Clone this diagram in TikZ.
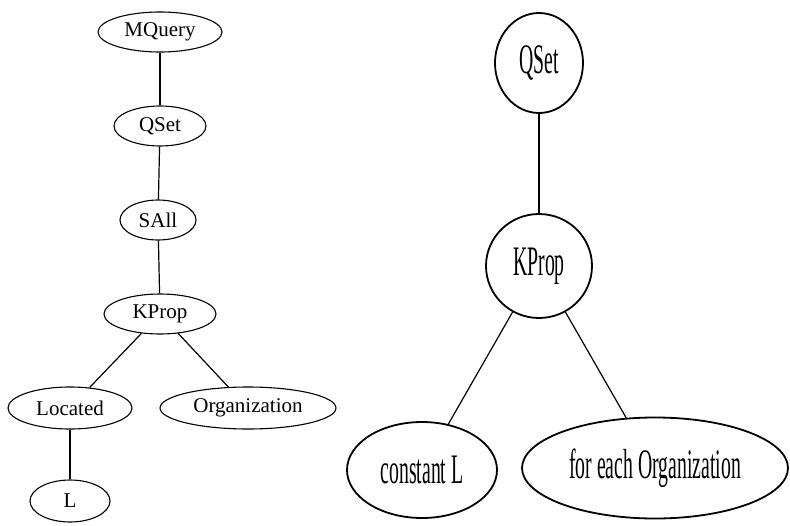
\documentclass[tikz,border=0pt]{standalone}
\usepackage{fontspec}
\setmainfont{Liberation Serif}
\newfontfamily\narrowserif[FakeStretch=0.47]{Liberation Serif}
\usetikzlibrary{shapes.geometric}
\tikzset{
  smallnode/.style={ellipse, draw, line width=1.1pt, inner sep=0pt,
    font=\fontsize{21pt}{24pt}\selectfont},
  bignode/.style={ellipse, draw, line width=1.8pt, inner sep=0pt,
    font=\narrowserif\fontsize{42pt}{46pt}\selectfont},
  edge/.style={line width=1.2pt},
}
\begin{document}
\begin{tikzpicture}[x=1pt,y=-1pt]
\useasboundingbox (0,0) rectangle (790,525);

% parse tree of the full query
\node[smallnode, minimum width=124pt, minimum height=40pt] (mq) at (160,32) {MQuery};
\node[smallnode, minimum width=92pt, minimum height=40pt] (qs) at (160,126) {QSet};
\node[smallnode, minimum width=76pt, minimum height=40pt] (sa) at (158,220) {SAll};
\node[smallnode, minimum width=112pt, minimum height=40pt] (kp) at (160,314) {KProp};
\node[smallnode, minimum width=124pt, minimum height=42pt] (loc) at (70,408) {Located};
\node[smallnode, minimum width=176pt, minimum height=42pt] (org) at (248,408) {Organization};
\node[smallnode, minimum width=80pt, minimum height=42pt] (l) at (70,501) {L};

\draw[edge] (mq) -- (qs);
\draw[edge] (qs) -- (sa);
\draw[edge] (sa) -- (kp);
\draw[edge] (kp) -- (loc);
\draw[edge] (kp) -- (org);
\draw[edge] (loc) -- (l);

% simplified tree
\node[bignode, minimum width=88pt, minimum height=100pt] (rqs) at (539,63) {QSet};
\node[bignode, minimum width=106pt, minimum height=104pt] (rkp) at (539,266) {KProp};
\node[bignode, minimum width=150pt, minimum height=96pt] (rcl) at (422,470) {constant L};
\node[bignode, minimum width=266pt, minimum height=101pt] (rfe) at (655,468) {for each Organization};

\draw[edge] (rqs) -- (rkp);
\draw[edge] (rkp) -- (rcl);
\draw[edge] (rkp) -- (rfe);
\end{tikzpicture}
\end{document}
